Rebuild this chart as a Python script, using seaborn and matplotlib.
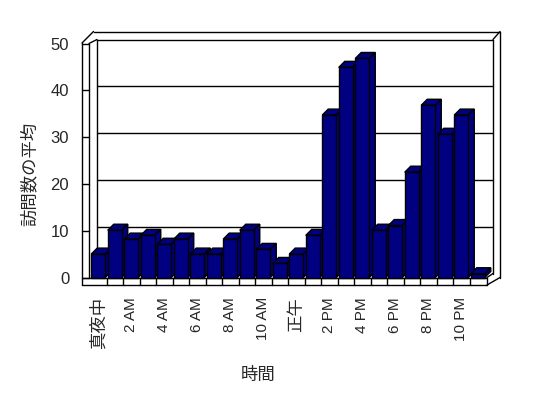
import matplotlib
matplotlib.use('Agg')
import matplotlib.pyplot as plt
import seaborn as sns
import pandas as pd
from matplotlib.patches import Polygon
from matplotlib.lines import Line2D
from matplotlib.transforms import IdentityTransform

# データ
hours = ['真夜中', '1 AM', '2 AM', '3 AM', '4 AM', '5 AM', '6 AM', '7 AM',
         '8 AM', '9 AM', '10 AM', '11 AM', '正午', '1 PM', '2 PM', '3 PM',
         '4 PM', '5 PM', '6 PM', '7 PM', '8 PM', '9 PM', '10 PM', '11 PM']
visits = [5.0, 10.1, 8.2, 9.0, 7.1, 8.2, 5.0, 5.0, 8.2, 10.1, 6.0, 3.0,
          5.0, 9.0, 34.7, 44.9, 46.8, 10.1, 11.1, 22.5, 36.8, 30.6, 34.7, 0.8]
y_ticks = [0, 10, 20, 30, 40, 50]

navy = '#000080'

sns.set_style('white')
plt.rcParams['font.family'] = ['Liberation Sans', 'Noto Sans CJK JP']

df = pd.DataFrame({'時間': hours, '訪問数の平均': visits})

fig = plt.figure(figsize=(5.48, 3.98), dpi=100)
ax = fig.add_axes([90 / 548, (398 - 277.5) / 398, 396 / 548, 234 / 398])
sns.barplot(data=df, x='時間', y='訪問数の平均', color=navy, saturation=1,
            width=0.85, edgecolor='black', linewidth=1, ax=ax)
ax.set_xlim(-0.5, len(hours) - 0.5)
ax.set_ylim(0, 50)
for s in ax.spines.values():
    s.set_visible(False)
ax.set_xlabel('')
ax.set_ylabel('')

# 目盛りラベル
ax.set_xticks(range(0, len(hours), 2))
ax.set_xticklabels(hours[::2], rotation=90)
ax.set_yticks(y_ticks)
ax.tick_params(axis='x', length=0, pad=14, labelsize=11)
ax.tick_params(axis='y', length=0, pad=15, labelsize=12)
for lab in ax.get_xticklabels():
    if not lab.get_text()[0].isdigit():
        lab.set_fontsize(12.5)

ax.text(-0.152, 0.444, '訪問数の平均', transform=ax.transAxes, rotation=90,
        ha='center', va='center', fontsize=12.5)
ax.text(0.424, -0.417, '時間', transform=ax.transAxes,
        ha='center', va='center', fontsize=12.5)

fig.canvas.draw()
T = ax.transData
x_lo, x_hi = ax.get_xlim()


def pt(x, y, dx=0, dy=0):
    # data座標 + ピクセルのずらし (右, 上)
    px, py = T.transform((x, y))
    return (px + dx, py + dy)


def line(a, b, z=1):
    ax.add_artist(Line2D([a[0], b[0]], [a[1], b[1]], color='black', lw=1,
                         transform=IdentityTransform(), zorder=z,
                         clip_on=False))


# 奥の壁 (グリッド線)
back = (7, 4)
for v in y_ticks[1:]:
    line(pt(x_lo, v, *back), pt(x_hi, v, *back))
line(pt(x_lo, 0, *back), pt(x_lo, 50, *back))
line(pt(x_hi, 0, *back), pt(x_hi, 50, *back))
# 壁の厚み
line(pt(x_lo, 50, 3.5, 12), pt(x_hi, 50, 14, 12))
line(pt(x_hi, 50, *back), pt(x_hi, 50, 14, 12))
line(pt(x_hi, 0, 14, 0), pt(x_hi, 50, 14, 12))
# 左の壁
line(pt(x_lo, 0, -8, -7.5), pt(x_lo, 50, -8, 0.5))
line(pt(x_lo, 0, -1, 0), pt(x_lo, 50, -1, 0))
line(pt(x_lo, 50, -8, 0.5), pt(x_lo, 50, 3.5, 12))
line(pt(x_lo, 50, -1, 0), pt(x_lo, 50, *back))
for v in y_ticks:
    line(pt(x_lo, v, -8, 0), pt(x_lo, v, -1, 0))
# 床
line(pt(x_lo, 0, -8, 0), pt(x_hi, 0, 1, 0))
line(pt(x_lo, 0, -8, -7.5), pt(x_hi, 0, 1, -7.5))
for k in range(1, len(hours) + 1):
    xb = x_lo + k
    shift = 1 if k == len(hours) else 0
    line(pt(xb, 0, shift, 0), pt(xb, 0, shift, -7.5))
line(pt(x_hi, 0, 1, -7.5), pt(x_hi, 0, 14, 0))
line(pt(x_hi, 0, 1, 0), pt(x_hi, 0, *back))

# 棒の立体部分 (上面・側面)
depth = (6, 6)
for i, p in enumerate(ax.patches):
    x0 = p.get_x()
    x1 = x0 + p.get_width()
    h = p.get_height()
    a, b, c = pt(x0, h), pt(x1, h), pt(x1, 0)
    ad = (a[0] + depth[0], a[1] + depth[1])
    bd = (b[0] + depth[0], b[1] + depth[1])
    cd = (c[0] + depth[0], c[1] + depth[1])
    z = 5 + 2 * i
    for poly in ([a, b, bd, ad], [b, c, cd, bd]):
        ax.add_artist(Polygon(poly, closed=True, facecolor=navy,
                              edgecolor='black', lw=1,
                              transform=IdentityTransform(), zorder=z,
                              clip_on=False))
    p.set_zorder(z + 1)
    p.set_clip_on(False)

plt.savefig('out.png', dpi=100)
